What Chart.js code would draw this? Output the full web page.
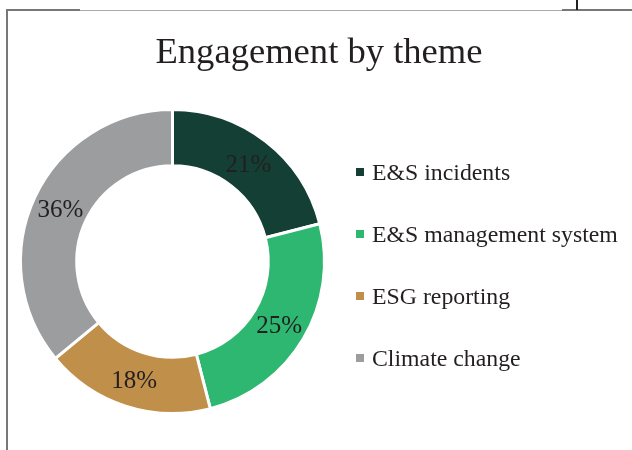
<!DOCTYPE html>
<html>
<head>
<meta charset="utf-8">
<script src="https://cdn.jsdelivr.net/npm/chart.js@4/dist/chart.umd.min.js"></script>
<style>
  body { margin: 0; background: #fff; }
  #wrap { position: relative; width: 632px; height: 450px; overflow: hidden; font-family: "Liberation Serif", "Times New Roman", serif; color: #231f20; }
  #grafico { position: absolute; left: 0; top: 0; }
  .linha { position: absolute; }
  #titulo { position: absolute; left: 0; width: 638px; top: 32px; text-align: center; font-size: 36.6px; line-height: 37px; }
  #legenda { position: absolute; left: 356px; top: 141px; }
  .item { height: 62px; display: flex; align-items: center; font-size: 23.8px; }
  .item span.caixa { display: inline-block; width: 8px; height: 8px; margin-right: 8px; }
</style>
</head>
<body>
<div id="wrap">
  <!-- moldura -->
  <div class="linha" style="left:6px;top:9px;width:2px;height:441px;background:#777;"></div>
  <div class="linha" style="left:6px;top:9px;width:74px;height:2px;background:#777;"></div>
  <div class="linha" style="left:80px;top:10px;width:482px;height:1px;background:#aaa;"></div>
  <div class="linha" style="left:562px;top:9px;width:70px;height:2px;background:#777;"></div>
  <div class="linha" style="left:576px;top:0;width:2px;height:10px;background:#222;"></div>

  <canvas id="grafico" width="632" height="450"></canvas>
  <div id="titulo">Engagement by theme</div>
  <div id="legenda"></div>
</div>
<script>
const temas = ["E&S incidents", "E&S management system", "ESG reporting", "Climate change"];
const percentuais = [21, 25, 18, 36];
const cores = ["#143f34", "#2db771", "#c0904b", "#9c9d9f"];

// legenda em html
const legenda = document.getElementById("legenda");
temas.forEach(function (t, i) {
  const div = document.createElement("div");
  div.className = "item";
  div.innerHTML = `<span class="caixa" style="background:${cores[i]}"></span>${t.replace("&", "&amp;")}`;
  legenda.appendChild(div);
});

// rótulos de porcentagem dentro das fatias
const rotulos = {
  id: "rotulos",
  afterDatasetsDraw(chart) {
    const ctx = chart.ctx;
    const meta = chart.getDatasetMeta(0);
    ctx.save();
    ctx.font = "25px 'Liberation Serif', serif";
    ctx.fillStyle = "#231f20";
    ctx.textAlign = "center";
    ctx.textBaseline = "middle";
    meta.data.forEach(function (arco, i) {
      const p = arco.tooltipPosition();
      ctx.fillText(percentuais[i] + "%", p.x, p.y + 2);
    });
    ctx.restore();
  }
};

const ctx = document.getElementById("grafico").getContext("2d");
new Chart(ctx, {
  type: "doughnut",
  data: {
    labels: temas,
    datasets: [{
      data: percentuais,
      backgroundColor: cores,
      borderColor: "#ffffff",
      borderWidth: 3
    }]
  },
  options: {
    responsive: false,
    animation: false,
    cutout: "63%",
    layout: { padding: { left: 19, right: 306, top: 108, bottom: 35 } },
    plugins: {
      legend: { display: false },
      title: { display: false },
      tooltip: { enabled: false }
    }
  },
  plugins: [rotulos]
});
</script>
</body>
</html>
